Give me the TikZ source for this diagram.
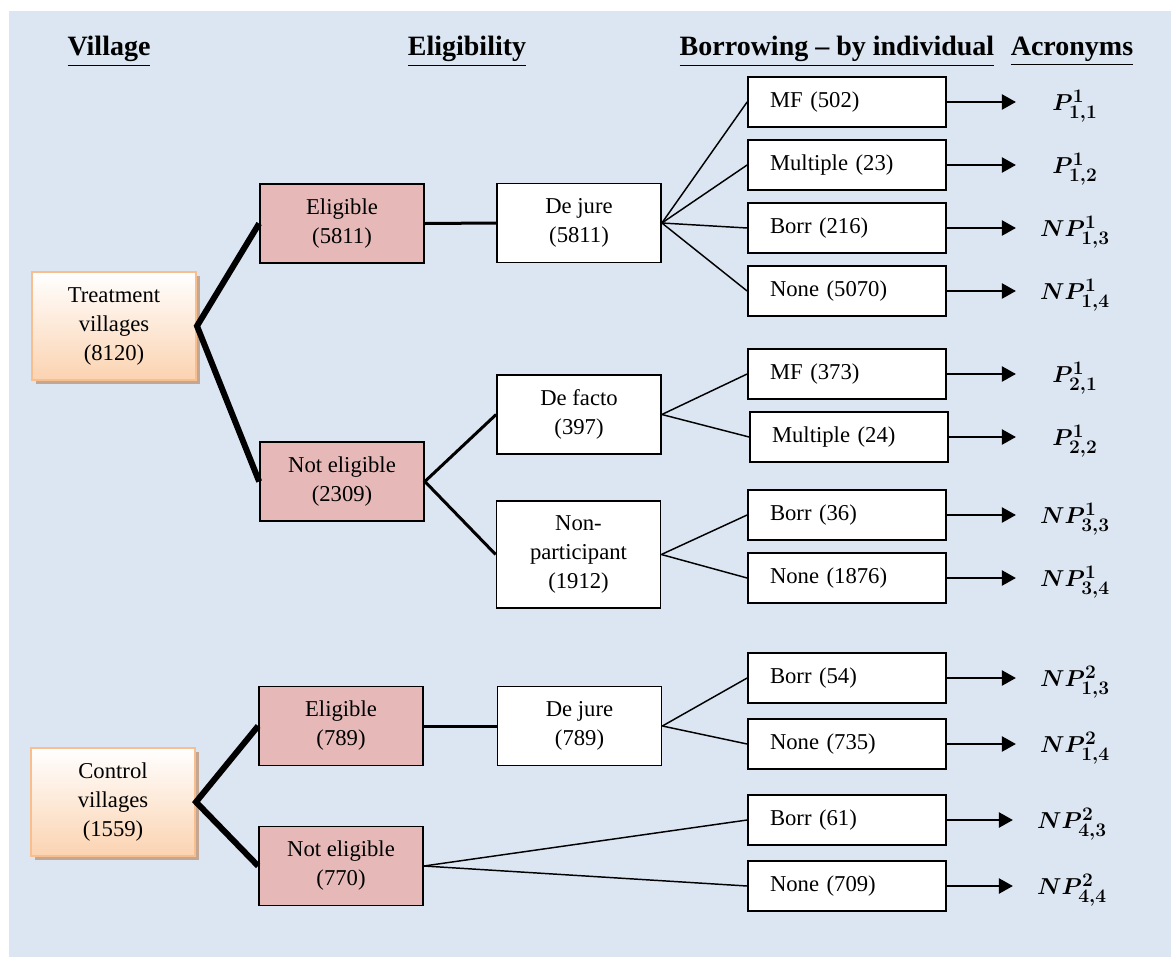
\documentclass[tikz,border=0pt]{standalone}
\usepackage{fontspec}
\setmainfont{Liberation Serif}
\usepackage{amsmath}
\usepackage{bm}
\DeclareMathSizes{19}{19}{14}{10}
\usetikzlibrary{arrows.meta,shadows}
\definecolor{bgblue}{HTML}{DCE6F2}
\definecolor{pinkbox}{HTML}{E6B9B8}
\definecolor{peach}{HTML}{FBD3B1}
\definecolor{peachline}{HTML}{F9BE8E}
\definecolor{shadowbrown}{HTML}{C4A792}
\begin{document}
\begin{tikzpicture}
        [
            x=0.75pt, y=-0.75pt,
            every node/.style={font=\fontsize{17}{21.75}\selectfont},
            head/.style={font=\fontsize{21}{25}\selectfont\bfseries, anchor=base},
            village/.style={rectangle, draw=peachline, line width=1.5pt, top color=white, bottom color=peach,
                minimum width=123pt, minimum height=81pt, align=center,
                drop shadow={shadow xshift=3pt, shadow yshift=-3pt, fill=shadowbrown, opacity=1}},
            elig/.style={rectangle, draw, fill=pinkbox, line width=1.3pt, minimum width=123pt, minimum height=59.25pt, align=center},
            route/.style={rectangle, draw, fill=white, line width=1.3pt, minimum width=123pt, minimum height=59.25pt, align=center},
            leaf/.style={rectangle, draw, fill=white, line width=1.3pt, minimum height=37.5pt,
                text width=115.5pt, inner xsep=16.5pt, align=left},
            acr/.style={font=\fontsize{19}{21}\selectfont, anchor=base, yshift=-6.5pt},
            trunk/.style={line width=4.5pt, miter limit=20},
            branch/.style={line width=2.25pt},
            twig/.style={line width=1.1pt},
            arr/.style={-{Triangle[length=10.5pt,width=11.5pt]}, line width=1pt},
        ]
            \useasboundingbox (0,0) rectangle (1171,957);
            \fill[bgblue] (9,11) rectangle (1171,957);

            % column heads
            \node[head] (H1) at (109,55) {\underline{Village}};
            \node[head] (H2) at (467,55) {\underline{Eligibility}};
            \node[head] (H3) at (837,55) {\underline{Borrowing -- by individual}};
            \node[head] (H4) at (1072,55) {\underline{Acronyms}};

            % villages and eligibility
            \node[village] (V1) at (114,326) {Treatment\\villages\\(8120)};
            \node[village] (V2) at (113,802) {Control\\villages\\(1559)};
            \node[elig] (E1) at (342,223.5) {Eligible\\(5811)};
            \node[elig] (N1) at (342,481.5) {Not eligible\\(2309)};
            \node[elig] (E2) at (341,726) {Eligible\\(789)};
            \node[elig] (N2) at (341,866) {Not eligible\\(770)};

            \node[route] (J1) at (579,223) {De jure\\(5811)};
            \node[route] (F1) at (579,414.5) {De facto\\(397)};
            \node[route, minimum height=80.25pt] (P1) at (578.5,554.5) {Non-\\participant\\(1912)};
            \node[route] (J2) at (579.5,726) {De jure\\(789)};

            % borrowing
            \node[leaf] (L1) at (847,102) {MF (502)};
            \node[leaf] (L2) at (847,165) {Multiple (23)};
            \node[leaf] (L3) at (847,228) {Borr (216)};
            \node[leaf] (L4) at (847,291) {None (5070)};
            \node[leaf] (L5) at (847,374) {MF (373)};
            \node[leaf] (L6) at (849,437) {Multiple (24)};
            \node[leaf] (L7) at (847,515) {Borr (36)};
            \node[leaf] (L8) at (847,578) {None (1876)};
            \node[leaf] (L9) at (847,678) {Borr (54)};
            \node[leaf] (L10) at (847,744) {None (735)};
            \node[leaf] (L11) at (847,820) {Borr (61)};
            \node[leaf] (L12) at (847,886) {None (709)};

            % acronyms
            \node[acr] (A1) at (1075,102) {$\bm{P^{1}_{1,1}}$};
            \node[acr] (A2) at (1075,165) {$\bm{P^{1}_{1,2}}$};
            \node[acr] (A3) at (1075,228) {$\bm{NP^{1}_{1,3}}$};
            \node[acr] (A4) at (1075,291) {$\bm{NP^{1}_{1,4}}$};
            \node[acr] (A5) at (1075,374) {$\bm{P^{1}_{2,1}}$};
            \node[acr] (A6) at (1075,437) {$\bm{P^{1}_{2,2}}$};
            \node[acr] (A7) at (1075,515) {$\bm{NP^{1}_{3,3}}$};
            \node[acr] (A8) at (1075,578) {$\bm{NP^{1}_{3,4}}$};
            \node[acr] (A9) at (1075,678) {$\bm{NP^{2}_{1,3}}$};
            \node[acr] (A10) at (1075,744) {$\bm{NP^{2}_{1,4}}$};
            \node[acr] (A11) at (1072,820) {$\bm{NP^{2}_{4,3}}$};
            \node[acr] (A12) at (1072,886) {$\bm{NP^{2}_{4,4}}$};

            % connectors
            \draw[trunk] (E1.west) -- (V1.east) -- (N1.west);
            \draw[trunk] (E2.west) -- (V2.east) -- (N2.west);
            \draw[branch] (E1.east) -- (J1.west);
            \draw[branch] (E2.east) -- (J2.west);
            \draw[branch] (F1.west) -- (N1.east) -- (P1.west);

            \draw[twig] (J1.east) -- (L1.west);
            \draw[twig] (J1.east) -- (L2.west);
            \draw[twig] (J1.east) -- (L3.west);
            \draw[twig] (J1.east) -- (L4.west);
            \draw[twig] (F1.east) -- (L5.west);
            \draw[twig] (F1.east) -- (L6.west);
            \draw[twig] (P1.east) -- (L7.west);
            \draw[twig] (P1.east) -- (L8.west);
            \draw[twig] (J2.east) -- (L9.west);
            \draw[twig] (J2.east) -- (L10.west);
            \draw[twig] (N2.east) -- (L11.west);
            \draw[twig] (N2.east) -- (L12.west);

            \draw[arr] (L1.east) -- ++(69,0);
            \draw[arr] (L2.east) -- ++(69,0);
            \draw[arr] (L3.east) -- ++(69,0);
            \draw[arr] (L4.east) -- ++(69,0);
            \draw[arr] (L5.east) -- ++(69,0);
            \draw[arr] (L6.east) -- ++(67,0);
            \draw[arr] (L7.east) -- ++(69,0);
            \draw[arr] (L8.east) -- ++(69,0);
            \draw[arr] (L9.east) -- ++(69,0);
            \draw[arr] (L10.east) -- ++(69,0);
            \draw[arr] (L11.east) -- ++(66,0);
            \draw[arr] (L12.east) -- ++(66,0);
        \end{tikzpicture}
\end{document}
